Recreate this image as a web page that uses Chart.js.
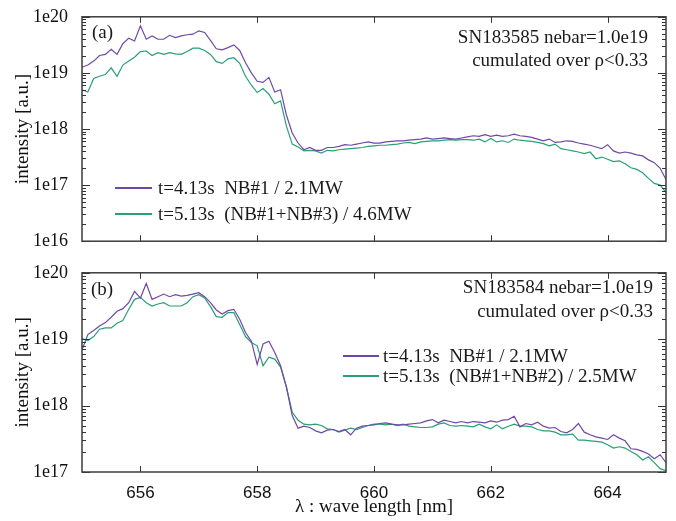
<!DOCTYPE html>
<html><head><meta charset="utf-8">
<script src="https://cdn.jsdelivr.net/npm/chart.js@4/dist/chart.umd.min.js"></script>
<style>
html,body{margin:0;padding:0;background:#fff;}
#wrap{position:relative;width:676px;height:521px;overflow:hidden;font-family:"Liberation Serif",serif;color:#1a1a1a;background:#fff;}
canvas{position:absolute;left:0;}
.t{position:absolute;font-size:19px;line-height:20px;white-space:pre;}
.r{text-align:right;}
.sw{position:absolute;height:2px;}
</style></head><body>
<div id="wrap">
  <canvas id="ca" width="676" height="258" style="top:0"></canvas>
  <canvas id="cb" width="676" height="265" style="top:256px"></canvas>
  <div class="t" style="left:92px;top:22px">(a)</div>
  <div class="t r" style="right:28px;top:27px">SN183585 nebar=1.0e19</div>
  <div class="t r" style="right:28px;top:50px">cumulated over ρ&lt;0.33</div>
  <div id="legA"></div>
  <div class="t" style="left:91px;top:279px">(b)</div>
  <div class="t r" style="right:23px;top:277px">SN183584 nebar=1.0e19</div>
  <div class="t r" style="right:23px;top:301px">cumulated over ρ&lt;0.33</div>
  <div id="legB"></div>
</div>
<script>
// ---------- data ----------
const wavelength = [655.0,655.1,655.2,655.3,655.4,655.5,655.6,655.7,655.8,655.9,
 656.0,656.1,656.2,656.3,656.4,656.5,656.6,656.7,656.8,656.9,
 657.0,657.1,657.2,657.3,657.4,657.5,657.6,657.7,657.8,657.9,
 658.0,658.1,658.2,658.3,658.4,658.5,658.6,658.7,658.8,658.9,
 659.0,659.1,659.2,659.3,659.4,659.5,659.6,659.7,659.8,659.9,
 660.0,660.1,660.2,660.3,660.4,660.5,660.6,660.7,660.8,660.9,
 661.0,661.1,661.2,661.3,661.4,661.5,661.6,661.7,661.8,661.9,
 662.0,662.1,662.2,662.3,662.4,662.5,662.6,662.7,662.8,662.9,
 663.0,663.1,663.2,663.3,663.4,663.5,663.6,663.7,663.8,663.9,
 664.0,664.1,664.2,664.3,664.4,664.5,664.6,664.7,664.8,664.9,
 665.0];

// log10(intensity) values
const a_t413 = [19.10,19.14,19.21,19.31,19.33,19.42,19.33,19.52,19.62,19.57,
 19.84,19.60,19.66,19.60,19.60,19.67,19.63,19.66,19.68,19.69,
 19.75,19.72,19.58,19.43,19.41,19.45,19.50,19.40,19.18,19.00,
 18.85,18.83,18.92,18.66,18.70,18.25,17.93,17.75,17.63,17.67,
 17.62,17.62,17.67,17.67,17.69,17.72,17.71,17.73,17.75,17.77,
 17.75,17.75,17.77,17.78,17.79,17.79,17.80,17.81,17.82,17.84,
 17.82,17.83,17.84,17.83,17.82,17.84,17.86,17.88,17.87,17.90,
 17.87,17.89,17.87,17.88,17.91,17.88,17.87,17.85,17.82,17.79,
 17.82,17.76,17.77,17.79,17.78,17.75,17.73,17.71,17.68,17.65,
 17.72,17.61,17.57,17.59,17.57,17.54,17.52,17.45,17.40,17.30,
 17.10];
const a_t513 = [18.70,18.66,18.90,18.94,18.97,19.09,18.94,19.14,19.21,19.28,
 19.38,19.39,19.31,19.36,19.33,19.36,19.34,19.33,19.38,19.44,
 19.44,19.40,19.33,19.20,19.17,19.25,19.27,19.17,18.94,18.78,
 18.65,18.72,18.62,18.45,18.50,18.05,17.73,17.68,17.61,17.62,
 17.61,17.57,17.62,17.61,17.63,17.64,17.65,17.66,17.67,17.69,
 17.70,17.71,17.71,17.72,17.73,17.75,17.76,17.74,17.77,17.78,
 17.79,17.79,17.80,17.81,17.80,17.81,17.81,17.80,17.82,17.77,
 17.83,17.77,17.79,17.76,17.82,17.80,17.79,17.78,17.76,17.74,
 17.70,17.73,17.65,17.63,17.61,17.59,17.56,17.59,17.47,17.50,
 17.46,17.42,17.43,17.38,17.31,17.28,17.22,17.12,17.03,17.00,
 16.87];
const b_t413 = [18.84,19.07,19.13,19.20,19.25,19.33,19.42,19.46,19.55,19.72,
 19.62,19.84,19.60,19.64,19.68,19.64,19.67,19.65,19.66,19.68,
 19.70,19.64,19.55,19.44,19.38,19.43,19.45,19.30,19.10,18.97,
 18.62,18.93,18.97,18.80,18.60,18.28,17.85,17.66,17.69,17.67,
 17.62,17.59,17.63,17.64,17.61,17.64,17.56,17.66,17.69,17.70,
 17.71,17.73,17.74,17.72,17.71,17.71,17.72,17.73,17.74,17.77,
 17.79,17.74,17.78,17.76,17.74,17.76,17.74,17.76,17.75,17.74,
 17.77,17.75,17.78,17.79,17.84,17.68,17.73,17.71,17.75,17.69,
 17.66,17.67,17.61,17.59,17.64,17.73,17.60,17.56,17.53,17.51,
 17.49,17.56,17.51,17.47,17.35,17.34,17.31,17.27,17.20,17.26,
 17.14];
const b_t513 = [19.01,18.98,19.04,19.15,19.17,19.17,19.24,19.28,19.45,19.60,
 19.63,19.55,19.50,19.53,19.55,19.50,19.50,19.50,19.55,19.64,
 19.67,19.62,19.49,19.34,19.33,19.40,19.40,19.22,19.04,18.95,
 18.90,18.60,18.73,18.70,18.58,18.28,17.90,17.78,17.72,17.71,
 17.72,17.70,17.65,17.64,17.60,17.63,17.66,17.64,17.67,17.70,
 17.72,17.72,17.71,17.72,17.70,17.72,17.69,17.68,17.67,17.67,
 17.68,17.72,17.74,17.70,17.69,17.70,17.69,17.68,17.72,17.68,
 17.65,17.71,17.65,17.69,17.72,17.69,17.69,17.68,17.64,17.62,
 17.62,17.60,17.56,17.56,17.57,17.48,17.48,17.47,17.46,17.45,
 17.41,17.36,17.38,17.36,17.31,17.26,17.18,17.23,17.14,17.05,
 17.02];

const seriesLabelsA = ['t=4.13s  NB#1 / 2.1MW', 't=5.13s  (NB#1+NB#3) / 4.6MW'];
const seriesLabelsB = ['t=4.13s  NB#1 / 2.1MW', 't=5.13s  (NB#1+NB#2) / 2.5MW'];
const xTickValues = [656, 658, 660, 662, 664];
const yTickValuesA = [1e16, 1e17, 1e18, 1e19, 1e20];
const yTickLabelsA = ['1e16', '1e17', '1e18', '1e19', '1e20'];
const yTickValuesB = [1e17, 1e18, 1e19, 1e20];
const yTickLabelsB = ['1e17', '1e18', '1e19', '1e20'];

const PURPLE = '#6f48a8';
const GREEN = '#2a9e78';

function pts(logs){ return wavelength.map((w,i)=>({x:w, y:Math.pow(10, logs[i])})); }

const frameTicks = {
  id:'frameTicks',
  afterDatasetsDraw(chart){
    const {ctx, chartArea:a, scales:{x,y}} = chart;
    ctx.save();
    ctx.strokeStyle = '#333';
    ctx.lineWidth = 1;
    ctx.beginPath();
    xTickValues.forEach(v=>{
      const px = Math.round(x.getPixelForValue(v)) + 0.5;
      ctx.moveTo(px, a.bottom); ctx.lineTo(px, a.bottom - 6);
      ctx.moveTo(px, a.top); ctx.lineTo(px, a.top + 6);
    });
    const lo = Math.round(Math.log10(y.min)), hi = Math.round(Math.log10(y.max));
    for (let d = lo; d <= hi; d++) {
      for (let k = 1; k <= 9; k++) {
        if (d === hi && k > 1) break;
        const py = Math.round(y.getPixelForValue(k * Math.pow(10, d))) + 0.5;
        const L = k === 1 ? 8 : 4;
        ctx.moveTo(a.left, py); ctx.lineTo(a.left + L, py);
        ctx.moveTo(a.right, py); ctx.lineTo(a.right - L, py);
      }
    }
    ctx.stroke();
    ctx.lineWidth = 1.5;
    ctx.strokeStyle = '#3c3c3c';
    ctx.strokeRect(a.left, a.top, a.right - a.left, a.bottom - a.top);
    ctx.restore();
  }
};

function makeChart(id, d1, d2, labels, yMin, yMax, yVals, yLabs, showX, pad){
  return new Chart(document.getElementById(id), {
    type:'line',
    data:{datasets:[
      {label:labels[0], data:pts(d1), borderColor:PURPLE, backgroundColor:PURPLE},
      {label:labels[1], data:pts(d2), borderColor:GREEN, backgroundColor:GREEN}
    ]},
    options:{
      responsive:false, animation:false, devicePixelRatio:1,
      layout:{padding:pad},
      plugins:{legend:{display:false}, tooltip:{enabled:false}},
      elements:{point:{radius:0}, line:{borderWidth:1.2, tension:0}},
      scales:{
        x:{type:'linear', min:655, max:665,
          grid:{display:false}, border:{display:false},
          afterBuildTicks:s=>{ s.ticks = xTickValues.map(v=>({value:v})); },
          ticks:{display:showX, padding:3, autoSkip:false, maxRotation:0,
            font:{family:'Liberation Sans', size:17}, color:'#111'},
          title:{display:showX, text:'λ : wave length [nm]',
            font:{family:'Liberation Serif', size:19}, color:'#111', padding:{top:0,bottom:3}},
          afterFit:s=>{ s.height = showX ? 49 : 0; }
        },
        y:{type:'logarithmic', min:yMin, max:yMax,
          grid:{display:false}, border:{display:false},
          afterBuildTicks:s=>{ s.ticks = yVals.map(v=>({value:v})); },
          ticks:{padding:6, autoSkip:false,
            font:{family:'Liberation Serif', size:18}, color:'#111',
            callback:(v,i)=>yLabs[i]},
          title:{display:true, text:'intensity [a.u.]',
            font:{family:'Liberation Serif', size:19}, color:'#111', padding:{top:12,bottom:0}},
          afterFit:s=>{ s.width = 82; }
        }
      }
    },
    plugins:[frameTicks]
  });
}

makeChart('ca', a_t413, a_t513, seriesLabelsA, 1e16, 1e20, yTickValuesA, yTickLabelsA, false, {top:12,right:10,bottom:12,left:0});
makeChart('cb', b_t413, b_t513, seriesLabelsB, 1e17, 1e20, yTickValuesB, yTickLabelsB, true, {top:11,right:10,bottom:0,left:0});

function legend(el, labels, x0, x1, tx, ys){
  const host = document.getElementById(el);
  [PURPLE, GREEN].forEach((c,i)=>{
    const sw = document.createElement('div');
    sw.className = 'sw';
    sw.style.left = x0 + 'px';
    sw.style.width = (x1 - x0) + 'px';
    sw.style.top = (ys[i] - 1) + 'px';
    sw.style.background = c;
    host.appendChild(sw);
    const t = document.createElement('div');
    t.className = 't';
    t.style.left = tx + 'px';
    t.style.top = (ys[i] - 10) + 'px';
    t.textContent = labels[i];
    host.appendChild(t);
  });
}
legend('legA', seriesLabelsA, 115, 152, 158, [188, 214]);
legend('legB', seriesLabelsB, 343, 379, 383, [356, 376]);
</script>
</body></html>
